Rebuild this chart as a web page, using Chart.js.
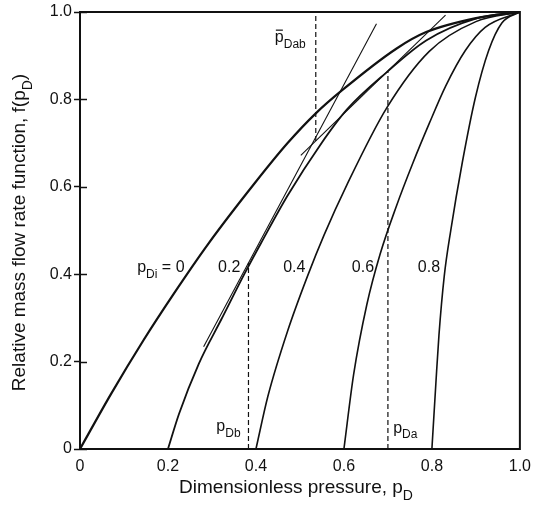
<!DOCTYPE html>
<html>
<head>
<meta charset="utf-8">
<script src="https://cdn.jsdelivr.net/npm/chart.js@4.4.1/dist/chart.umd.min.js"></script>
<style>
html, body { margin: 0; padding: 0; background: #fff; }
</style>
</head>
<body>
<canvas id="flow_chart" width="539" height="518"></canvas>
<script>
// curves, one per inlet pressure p_Di
const p_di_0 = [0, 0.07, 0.145, 0.213, 0.292, 0.397, 0.472, 0.536, 0.596, 0.719, 0.787, 0.9, 1.0];
const f_di_0 = [0, 0.125, 0.25, 0.355, 0.47, 0.608, 0.700, 0.768, 0.821, 0.916, 0.954, 0.986, 1.0];

const p_di_2 = [0.2, 0.225, 0.27, 0.322, 0.375, 0.412, 0.472, 0.547, 0.607, 0.697, 0.787, 0.9, 1.0];
const f_di_2 = [0, 0.08, 0.195, 0.298, 0.403, 0.472, 0.58, 0.697, 0.777, 0.862, 0.935, 0.985, 1.0];

const p_di_4 = [0.4, 0.427, 0.472, 0.517, 0.555, 0.607, 0.697, 0.794, 0.9, 1.0];
const f_di_4 = [0, 0.12, 0.27, 0.395, 0.49, 0.605, 0.78, 0.91, 0.978, 1.0];

const p_di_6 = [0.6, 0.622, 0.652, 0.682, 0.719, 0.757, 0.794, 0.831, 0.876, 0.921, 1.0];
const f_di_6 = [0, 0.17, 0.33, 0.445, 0.555, 0.655, 0.745, 0.83, 0.912, 0.965, 1.0];

const p_di_8 = [0.8, 0.809, 0.816, 0.828, 0.843, 0.869, 0.899, 0.929, 0.959, 1.0];
const f_di_8 = [0, 0.15, 0.26, 0.395, 0.501, 0.655, 0.805, 0.912, 0.975, 1.0];

// tangent lines to the 0.2 curve at p_Db and p_Da
const p_tan_b = [0.281, 0.674];
const f_tan_b = [0.234, 0.973];
const p_tan_a = [0.502, 0.831];
const f_tan_a = [0.672, 0.993];

// dashed verticals
const p_db = [0.383, 0.383];
const f_db = [0, 0.426];
const p_da = [0.700, 0.700];
const f_da = [0, 0.864];
const p_dab = [0.536, 0.536];
const f_dab = [0.705, 1.0];

const tick_values = [0, 0.2, 0.4, 0.6, 0.8, 1.0];

const FONT = "'Liberation Sans', Arial, Helvetica, sans-serif";
const INK = "#111";

function pts(xs, ys)
{
    return xs.map((x, i) => ({ x: x, y: ys[i] }));
}

function curve(xs, ys, width)
{
    return {
        data: pts(xs, ys),
        showLine: true,
        borderColor: INK,
        borderWidth: width,
        pointRadius: 0,
        cubicInterpolationMode: "monotone",
        fill: false
    };
}

function straight(xs, ys, width, dash)
{
    return {
        data: pts(xs, ys),
        showLine: true,
        borderColor: INK,
        borderWidth: width,
        borderDash: dash || [],
        pointRadius: 0,
        tension: 0,
        fill: false
    };
}

// text pieces: [text, isSubscript]
const curve_labels = [
    { x: 0.130, y: 0.405, parts: [["p", 0], ["Di", 1], [" = 0", 0]] },
    { x: 0.314, y: 0.405, parts: [["0.2", 0]] },
    { x: 0.462, y: 0.405, parts: [["0.4", 0]] },
    { x: 0.618, y: 0.405, parts: [["0.6", 0]] },
    { x: 0.768, y: 0.405, parts: [["0.8", 0]] },
    { x: 0.310, y: 0.041, parts: [["p", 0], ["Db", 1]] },
    { x: 0.712, y: 0.037, parts: [["p", 0], ["Da", 1]] },
    { x: 0.443, y: 0.931, parts: [["p", 0], ["Dab", 1]], bar: true }
];

function drawParts(ctx, x, y, parts, size, center)
{
    const sub = Math.round(size * 0.75);
    let total = 0;
    parts.forEach(([t, s]) =>
    {
        ctx.font = (s ? sub : size) + "px " + FONT;
        total += ctx.measureText(t).width;
    });
    let cx = center ? x - total / 2 : x;
    ctx.textAlign = "left";
    ctx.textBaseline = "alphabetic";
    parts.forEach(([t, s]) =>
    {
        ctx.font = (s ? sub : size) + "px " + FONT;
        ctx.fillText(t, cx, y + (s ? size * 0.35 : 0));
        cx += ctx.measureText(t).width;
    });
}

const frame_plugin =
{
    id: "frame_plugin",
    afterDraw(chart)
    {
        const ctx = chart.ctx;
        const a = chart.chartArea;
        const xs = chart.scales.x;
        const ys = chart.scales.y;
        ctx.save();
        ctx.strokeStyle = INK;
        ctx.fillStyle = INK;
        ctx.lineWidth = 2;
        ctx.strokeRect(a.left, a.top, a.right - a.left, a.bottom - a.top);

        // inner half of the y ticks
        ctx.lineWidth = 1.5;
        tick_values.forEach(v =>
        {
            const py = Math.round(ys.getPixelForValue(v)) + 0.5;
            ctx.beginPath();
            ctx.moveTo(a.left, py);
            ctx.lineTo(a.left + 7, py);
            ctx.stroke();
        });

        curve_labels.forEach(l =>
        {
            const px = xs.getPixelForValue(l.x);
            const py = ys.getPixelForValue(l.y);
            drawParts(ctx, px, py, l.parts, 16, false);
            if (l.bar)
            {
                ctx.lineWidth = 1.2;
                ctx.beginPath();
                ctx.moveTo(px + 1, py - 12);
                ctx.lineTo(px + 8, py - 12);
                ctx.stroke();
            }
        });

        // axis titles
        drawParts(ctx, (a.left + a.right) / 2 - 4, 493,
            [["Dimensionless pressure, p", 0], ["D", 1]], 19, true);

        ctx.save();
        ctx.translate(25, (a.top + a.bottom) / 2 + 2);
        ctx.rotate(-Math.PI / 2);
        drawParts(ctx, 0, 0,
            [["Relative mass flow rate function, f(p", 0], ["D", 1], [")", 0]], 19, true);
        ctx.restore();

        ctx.restore();
    }
};

const flow_chart = new Chart("flow_chart",
{
    type: "scatter",
    data:
    {
        datasets:
        [
            curve(p_di_0, f_di_0, 2.2),
            curve(p_di_2, f_di_2, 1.8),
            curve(p_di_4, f_di_4, 1.6),
            curve(p_di_6, f_di_6, 1.6),
            curve(p_di_8, f_di_8, 1.6),
            straight(p_tan_b, f_tan_b, 1.1),
            straight(p_tan_a, f_tan_a, 1.1),
            straight(p_db, f_db, 1.2, [5, 3]),
            straight(p_da, f_da, 1.2, [5, 3]),
            straight(p_dab, f_dab, 1.2, [5, 3])
        ]
    },
    options:
    {
        responsive: false,
        animation: false,
        devicePixelRatio: 1,
        layout:
        {
            padding: { top: 12, right: 14, left: 0, bottom: 0 }
        },
        plugins:
        {
            legend: { display: false },
            tooltip: { enabled: false }
        },
        scales:
        {
            x:
            {
                type: "linear",
                min: 0,
                max: 1,
                afterFit: s => { s.height = 69; },
                afterBuildTicks: s => { s.ticks = tick_values.map(v => ({ value: v })); },
                grid: { display: false, drawTicks: false },
                border: { display: false },
                ticks:
                {
                    padding: 8,
                    color: INK,
                    font: { family: FONT, size: 16 },
                    callback: v => v === 0 ? "0" : v.toFixed(1)
                }
            },
            y:
            {
                type: "linear",
                min: 0,
                max: 1,
                afterFit: s => { s.width = 80; },
                afterBuildTicks: s => { s.ticks = tick_values.map(v => ({ value: v })); },
                grid:
                {
                    display: true,
                    drawOnChartArea: false,
                    drawTicks: true,
                    tickLength: 6,
                    tickWidth: 1.5,
                    color: INK
                },
                border: { display: false },
                ticks:
                {
                    padding: 2,
                    color: INK,
                    font: { family: FONT, size: 16 },
                    callback: v => v === 0 ? "0" : v.toFixed(1)
                }
            }
        }
    },
    plugins: [frame_plugin]
});
</script>
</body>
</html>
